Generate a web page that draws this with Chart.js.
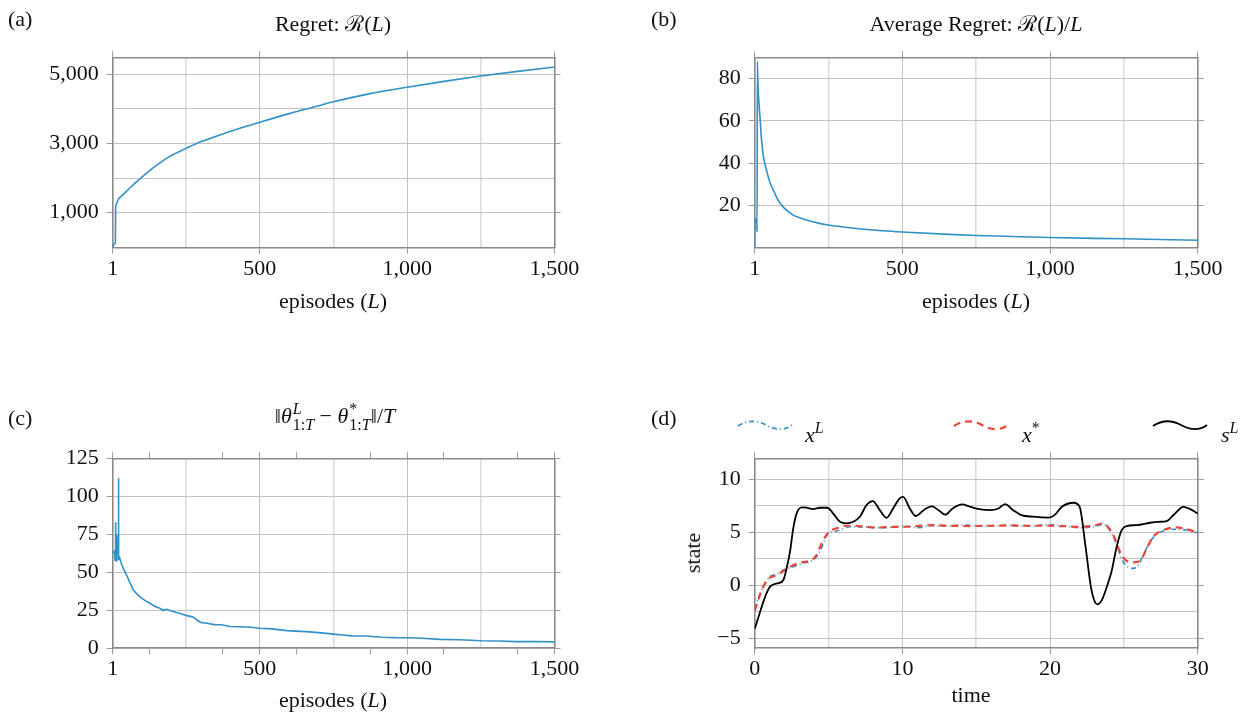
<!DOCTYPE html>
<html>
<head>
<meta charset="utf-8">
<script src="https://cdn.jsdelivr.net/npm/chart.js@4.4.1/dist/chart.umd.min.js"></script>
<style>
  body { margin: 0; background: #fff; width: 1250px; height: 713px; position: relative; overflow: hidden;
         font-family: "Liberation Serif", "DejaVu Serif", serif; color: #111; }
  canvas { position: absolute; }
  .t { position: absolute; font-size: 22px; line-height: 1; white-space: nowrap; }
  .c { transform: translate(-50%, -50%); }
  .ss { display: inline-flex; flex-direction: column; font-size: 16px; line-height: 16px; vertical-align: 9px; margin-left: 1px; }
  .sp { font-size: 16px; vertical-align: 9px; }
  .leg { position: absolute; }
</style>
</head>
<body>
<canvas id="ca"></canvas>
<canvas id="cb"></canvas>
<canvas id="cc"></canvas>
<canvas id="cd"></canvas>

<div class="t" style="left:8px;top:8px">(a)</div>
<div class="t c" style="left:333px;top:24px">Regret: ℛ(<i>L</i>)</div>
<div class="t c" style="left:333px;top:301px">episodes (<i>L</i>)</div>

<div class="t" style="left:651px;top:8px">(b)</div>
<div class="t c" style="left:976px;top:24px">Average Regret: ℛ(<i>L</i>)/<i>L</i></div>
<div class="t c" style="left:976px;top:301px">episodes (<i>L</i>)</div>

<div class="t" style="left:8px;top:407px">(c)</div>
<div class="t c" style="left:335px;top:417px">‖<i>θ</i><span class="ss"><i>L</i><span>1:<i>T</i></span></span> − <i>θ</i><span class="ss"><span>*</span><span>1:<i>T</i></span></span>‖/<i>T</i></div>
<div class="t c" style="left:333px;top:700px">episodes (<i>L</i>)</div>

<div class="t" style="left:651px;top:407px">(d)</div>
<div class="t c" style="left:971px;top:695px">time</div>
<div class="t c" style="left:693px;top:553px;transform:translate(-50%,-50%) rotate(-90deg)">state</div>

<svg class="leg" style="left:737px;top:418px" width="56" height="14"><path d="M1,8 C10,2 20,2 29,7 S47,13 55,7" fill="none" stroke="#3090c8" stroke-width="1.8" stroke-dasharray="5 3 1 3"/></svg>
<div class="t" style="left:805px;top:420px"><i>x</i><span class="sp"><i>L</i></span></div>
<svg class="leg" style="left:953px;top:418px" width="56" height="14"><path d="M1,8 C10,2 20,2 29,7 S47,13 55,7" fill="none" stroke="#e8473a" stroke-width="2.2" stroke-dasharray="7 5"/></svg>
<div class="t" style="left:1022px;top:420px"><i>x</i><span class="sp">*</span></div>
<svg class="leg" style="left:1152px;top:418px" width="56" height="14"><path d="M1,8 C10,2 20,2 29,7 S47,13 55,7" fill="none" stroke="#000" stroke-width="1.8"/></svg>
<div class="t" style="left:1221px;top:420px"><i>s</i><span class="sp"><i>L</i></span></div>

<script>
// ---- data ----
const regretEp  = [1, 4, 9, 10, 11, 12, 20, 37, 60, 94, 139, 196, 250, 297, 377, 444, 500, 600, 684, 750, 870, 1000, 1125, 1250, 1375, 1500];
const regretVal = [0, 60, 110, 120, 1150, 1215, 1384, 1528, 1721, 1981, 2299, 2634, 2856, 3038, 3280, 3465, 3610, 3860, 4050, 4200, 4430, 4620, 4790, 4945, 5080, 5205];

const avgEp  = [1, 2, 3, 4, 5, 6, 7, 8, 9, 10, 11, 13, 16, 19, 23, 30, 41, 52, 64, 80, 97, 115, 131, 160, 187, 220, 250, 322, 434, 500, 659, 750, 900, 1000, 1250, 1500];
const avgVal = [0, 14, 12, 13.5, 12, 13, 11.5, 12.5, 7.5, 88, 82, 74, 67, 61.6, 53, 43.5, 36.7, 31, 27.2, 22.5, 19.3, 17, 15.4, 13.8, 12.6, 11.5, 10.7, 9.4, 8.0, 7.4, 6.3, 5.8, 5.2, 4.8, 4.2, 3.5];

const distEp  = [1, 5, 8, 9, 10, 11, 12, 13, 14, 15, 17, 19, 20, 21, 22, 24, 30, 37, 48, 60, 71, 82, 93, 110, 127, 145, 161, 172, 184, 200, 218, 235, 252, 265, 275, 286, 300, 320, 347, 370, 399, 430, 470, 500, 540, 593, 620, 658, 700, 751, 780, 813, 860, 917, 960, 1001, 1050, 1111, 1180, 1251, 1310, 1370, 1430, 1500];
const distVal = [63.5, 63, 64, 58, 70, 83, 60, 66, 57, 75, 62, 70, 58, 112, 60, 60, 56, 52.6, 48.2, 43, 38.4, 36, 34, 31.5, 29.6, 27.5, 26.3, 25, 25.7, 24.5, 23.5, 22.5, 21.5, 21, 20.5, 18.6, 17, 16.5, 15.6, 15.5, 14.3, 14.2, 13.8, 13.2, 12.8, 11.6, 11.3, 11, 10.3, 9.3, 8.8, 8.2, 8.1, 7.3, 7.0, 6.9, 6.6, 5.9, 5.6, 5.0, 4.8, 4.4, 4.5, 4.2];

const xlTime = [0, 0.3, 0.59, 1.04, 1.49, 1.94, 2.61, 3.29, 3.96, 4.41, 4.98, 5.54, 6.44, 7.5, 8.5, 9.5, 10, 11, 12, 13, 14, 15.5, 17, 18.5, 20, 21, 22, 23, 23.6, 24.0, 24.4, 24.95, 25.63, 25.97, 26.31, 26.76, 27.44, 28.35, 29.25, 30];
const xlVal  = [-2.2, -1.0, -0.13, 0.82, 1.04, 1.45, 1.76, 2.08, 2.39, 3.18, 4.9, 5.13, 5.53, 5.5, 5.45, 5.5, 5.63, 5.44, 5.63, 5.6, 5.69, 5.62, 5.65, 5.6, 5.72, 5.6, 5.44, 5.53, 5.75, 5.3, 4.2, 2.23, 1.6, 1.92, 2.86, 4.12, 5.0, 5.3, 5.22, 4.97];

const xsTime = [0, 0.36, 0.7, 1.04, 1.49, 1.94, 2.39, 3.08, 3.85, 4.19, 4.53, 4.98, 5.54, 6.2, 7.1, 8.24, 9.14, 10, 11, 12, 13, 14.6, 16, 17.3, 18.5, 19.9, 21, 22.0, 23.0, 23.6, 23.9, 24.28, 24.73, 25.18, 25.63, 26.09, 26.54, 26.99, 27.67, 28.57, 29.25, 30];
const xsVal  = [-2.42, -0.91, 0.19, 0.72, 0.97, 1.35, 1.76, 2.14, 2.39, 2.86, 3.96, 5.0, 5.38, 5.63, 5.6, 5.44, 5.53, 5.53, 5.6, 5.69, 5.63, 5.6, 5.63, 5.66, 5.63, 5.63, 5.58, 5.53, 5.65, 5.85, 5.53, 4.75, 3.18, 2.3, 2.17, 2.3, 3.49, 4.6, 5.22, 5.47, 5.3, 4.97];

const slTime = [0, 0.3, 0.59, 0.85, 1.04, 1.3, 1.6, 1.94, 2.16, 2.39, 2.61, 2.84, 3.18, 3.5, 3.96, 4.41, 4.91, 5.31, 5.77, 6.2, 6.67, 7.12, 7.57, 8.0, 8.47, 8.92, 9.37, 9.8, 10.05, 10.5, 10.9, 11.5, 12.0, 12.5, 12.9, 13.4, 14.05, 14.6, 15.3, 15.95, 16.5, 16.95, 17.5, 18.05, 18.85, 19.9, 20.3, 20.8, 21.6, 22.0, 22.4, 22.8, 23.2, 23.5, 23.8, 24.16, 24.5, 24.84, 25.18, 25.86, 26.76, 27.33, 27.9, 28.35, 29.03, 29.48, 30];
const slVal  = [-4.12, -2.8, -1.54, -0.6, -0.13, 0.1, 0.2, 0.5, 1.6, 3.18, 5.38, 6.8, 7.36, 7.33, 7.2, 7.33, 7.33, 6.8, 6.0, 5.85, 6.0, 6.48, 7.58, 7.96, 7.1, 6.38, 7.26, 8.2, 8.36, 7.26, 6.55, 7.17, 7.45, 7.04, 6.67, 7.26, 7.64, 7.42, 7.17, 7.1, 7.26, 7.67, 7.1, 6.63, 6.48, 6.4, 6.63, 7.42, 7.8, 7.42, 3.65, -0.44, -1.8, -1.4, -0.3, 1.3, 3.6, 5.2, 5.6, 5.69, 5.91, 6.0, 6.07, 6.64, 7.42, 7.2, 6.79];

// ---- ticks ----
const epTicks     = [1, 250, 500, 750, 1000, 1250, 1500];
const epTicksFine = [1, 125, 250, 375, 500, 625, 750, 875, 1000, 1125, 1250, 1375, 1500];
const epLabels    = [1, 500, 1000, 1500];
const epLight     = [250, 750, 1250];
const epBare      = [125, 375, 625, 875, 1125, 1375];
const regretTicks  = [1000, 2000, 3000, 4000, 5000];
const regretLabels = [1000, 3000, 5000];
const avgTicks  = [20, 40, 60, 80];
const distTicks = [0, 25, 50, 75, 100, 125];
const timeTicks  = [0, 5, 10, 15, 20, 25, 30];
const timeLabels = [0, 10, 20, 30];
const timeLight  = [5, 15, 25];
const stateTicks  = [-5, -2.5, 0, 2.5, 5, 7.5, 10];
const stateLabels = [-5, 0, 5, 10];

const BLUE = "#3090c8", RED = "#e8473a";
const GRID = "#c2c2c2", GRID_LIGHT = "#dcdcdc", FRAME = "#8a8a8a";
const TICK_FONT = { family: "Liberation Serif", size: 22 };
const Y_W = 70, X_H = 40, M = 8;

function fmt(v) {
  const s = Math.abs(v).toLocaleString("en-US");
  return v < 0 ? "\u2212" + s : s;
}

function pts(xs, ys) {
  return xs.map((x, i) => ({ x: x, y: ys[i] }));
}

function side(pos, a, main) {
  const horiz = pos === "bottom" || pos === "top";
  const light = a.light || [], bare = a.bare || [];
  return {
    type: "linear", position: pos, min: a.min, max: a.max,
    afterBuildTicks: s => { s.ticks = a.ticks.map(v => ({ value: v })); },
    afterFit: s => { if (horiz) s.height = main ? X_H : M; else s.width = main ? Y_W : M; },
    ticks: {
      display: main, autoSkip: false, maxRotation: 0, padding: horiz ? 2 : 8,
      font: TICK_FONT, color: "#111",
      callback: v => a.labels.includes(v) ? fmt(v) : ""
    },
    grid: {
      drawOnChartArea: main, tickLength: 6,
      color: c => bare.includes(c.tick.value) ? "rgba(0,0,0,0)" : (light.includes(c.tick.value) ? GRID_LIGHT : GRID),
      lineWidth: c => light.includes(c.tick.value) ? 1.6 : 1,
      tickColor: c => (a.labels.includes(c.tick.value) || bare.includes(c.tick.value)) ? "#9a9a9a" : "rgba(0,0,0,0)",
      tickWidth: 1
    },
    border: { display: true, color: FRAME, width: 1.6 }
  };
}

function makeChart(id, box, area, xa, ya, datasets) {
  const cv = document.getElementById(id);
  cv.width = box.w; cv.height = box.h;
  cv.style.left = box.x + "px"; cv.style.top = box.y + "px";
  return new Chart(cv.getContext("2d"), {
    type: "line",
    data: { datasets: datasets },
    options: {
      responsive: false, animation: false, events: [],
      layout: { padding: {
        left: area.l - box.x - Y_W, top: area.t - box.y - M,
        right: box.x + box.w - area.r - M, bottom: box.y + box.h - area.b - X_H
      } },
      plugins: { legend: { display: false }, tooltip: { enabled: false } },
      elements: { point: { radius: 0 } },
      scales: { x: side("bottom", xa, true), x2: side("top", xa, false), y: side("left", ya, true), y2: side("right", ya, false) }
    }
  });
}

const epAxis = { min: 1, max: 1500, ticks: epTicks, labels: epLabels, light: epLight };

makeChart("ca", { x: 0, y: 0, w: 625, h: 356 }, { l: 112.7, r: 554.5, t: 57.3, b: 247.7 },
  epAxis,
  { min: -10, max: 5485, ticks: regretTicks, labels: regretLabels },
  [{ data: pts(regretEp, regretVal), borderColor: BLUE, borderWidth: 1.6, cubicInterpolationMode: "monotone" }]);

makeChart("cb", { x: 625, y: 0, w: 625, h: 356 }, { l: 754.7, r: 1197.8, t: 57.3, b: 247.7 },
  epAxis,
  { min: 0, max: 90, ticks: avgTicks, labels: avgTicks },
  [{ data: pts(avgEp, avgVal), borderColor: BLUE, borderWidth: 1.6, cubicInterpolationMode: "monotone" }]);

makeChart("cc", { x: 0, y: 356, w: 625, h: 357 }, { l: 112.7, r: 554.5, t: 458.3, b: 648.3 },
  { min: 1, max: 1500, ticks: epTicksFine, labels: epLabels, light: epLight, bare: epBare },
  { min: 0, max: 125, ticks: distTicks, labels: distTicks },
  [{ data: pts(distEp, distVal), borderColor: BLUE, borderWidth: 1.6, tension: 0 }]);

makeChart("cd", { x: 625, y: 356, w: 625, h: 357 }, { l: 754.7, r: 1197.8, t: 458.3, b: 648.3 },
  { min: 0, max: 30, ticks: timeTicks, labels: timeLabels, light: timeLight },
  { min: -5.95, max: 12, ticks: stateTicks, labels: stateLabels },
  [
    { data: pts(slTime, slVal), borderColor: "#000", borderWidth: 1.8, cubicInterpolationMode: "monotone", order: 0 },
    { data: pts(xsTime, xsVal), borderColor: RED, borderWidth: 2.2, borderDash: [7, 5], cubicInterpolationMode: "monotone", order: 1 },
    { data: pts(xlTime, xlVal), borderColor: BLUE, borderWidth: 1.6, borderDash: [5, 3, 1, 3], cubicInterpolationMode: "monotone", order: 2 }
  ]);
</script>
</body>
</html>
